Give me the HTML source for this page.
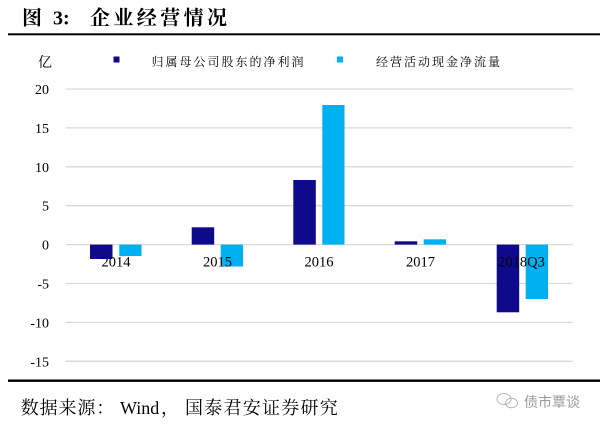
<!DOCTYPE html>
<html>
<head>
<meta charset="utf-8">
<style>
  html,body{margin:0;padding:0;background:#fff;}
  body{width:600px;height:426px;overflow:hidden;}
  svg{display:block;}
</style>
</head>
<body>
<svg width="600" height="426" viewBox="0 0 600 426" xmlns="http://www.w3.org/2000/svg">
  <rect width="600" height="426" fill="#fff"/>
  <!-- Title -->
  <text x="22" y="24.5" font-family="'Liberation Serif','Noto Serif CJK SC',serif" font-size="20" font-weight="bold" fill="#000">图</text>
  <text x="53" y="24.5" font-family="'Liberation Serif','Noto Serif CJK SC',serif" font-size="20" font-weight="bold" fill="#000">3:</text>
  <text x="90" y="24.5" font-family="'Liberation Serif','Noto Serif CJK SC',serif" font-size="20" font-weight="bold" letter-spacing="3.4" fill="#000">企业经营情况</text>
  <rect x="8" y="33.3" width="592" height="2" fill="#000"/>

  <!-- unit -->
  <text x="38" y="67" font-family="'Liberation Serif','Noto Serif CJK SC',serif" font-size="14" fill="#000">亿</text>

  <!-- Legend -->
  <rect x="113.5" y="56.5" width="6" height="6" fill="#0f0a8c"/>
  <text x="151.5" y="66" font-family="'Liberation Serif','Noto Serif CJK SC',serif" font-size="12" letter-spacing="2" fill="#000">归属母公司股东的净利润</text>
  <rect x="337" y="56.5" width="6" height="6" fill="#00b0f0"/>
  <text x="376" y="66" font-family="'Liberation Serif','Noto Serif CJK SC',serif" font-size="12" letter-spacing="2" fill="#000">经营活动现金净流量</text>

  <!-- Gridlines -->
  <g stroke="#d9d9d9" stroke-width="1.3">
    <line x1="65.7" y1="89" x2="572.7" y2="89"/>
    <line x1="65.7" y1="127.9" x2="572.7" y2="127.9"/>
    <line x1="65.7" y1="166.8" x2="572.7" y2="166.8"/>
    <line x1="65.7" y1="205.7" x2="572.7" y2="205.7"/>
    <line x1="65.7" y1="244.6" x2="572.7" y2="244.6"/>
    <line x1="65.7" y1="283.5" x2="572.7" y2="283.5"/>
    <line x1="65.7" y1="322.4" x2="572.7" y2="322.4"/>
    <line x1="65.7" y1="361.3" x2="572.7" y2="361.3"/>
  </g>

  <!-- Y labels -->
  <g font-family="'Liberation Serif',serif" font-size="14" fill="#000" text-anchor="end">
    <text x="49" y="94">20</text>
    <text x="49" y="132.9">15</text>
    <text x="49" y="171.8">10</text>
    <text x="49" y="210.7">5</text>
    <text x="49" y="249.6">0</text>
    <text x="49" y="288.5">-5</text>
    <text x="49" y="327.4">-10</text>
    <text x="49" y="366.3">-15</text>
  </g>

  <!-- Bars -->
  <g fill="#0f0a8c">
    <rect x="90" y="244.6" width="22.5" height="14.4"/>
    <rect x="191.7" y="227.3" width="22.5" height="17.3"/>
    <rect x="293.3" y="180" width="22.5" height="64.6"/>
    <rect x="394.7" y="241.3" width="22.5" height="3.3"/>
    <rect x="496.7" y="244.6" width="22.5" height="67.7"/>
  </g>
  <g fill="#00b0f0">
    <rect x="119.3" y="244.6" width="22.2" height="11.4"/>
    <rect x="220.7" y="244.6" width="22.4" height="21.9"/>
    <rect x="322.3" y="105" width="22.2" height="139.6"/>
    <rect x="423.7" y="239.3" width="22.3" height="5.3"/>
    <rect x="525.7" y="244.6" width="22.3" height="54.4"/>
  </g>

  <!-- X labels -->
  <g font-family="'Liberation Serif',serif" font-size="14.5" fill="#000" text-anchor="middle">
    <text x="116" y="266.5">2014</text>
    <text x="217.5" y="266.5">2015</text>
    <text x="319" y="266.5">2016</text>
    <text x="420.5" y="266.5">2017</text>
    <text x="521.5" y="266.5">2018Q3</text>
  </g>

  <!-- Bottom rule -->
  <rect x="8" y="379.5" width="592" height="2.4" fill="#000"/>

  <!-- Footer -->
  <text x="20.7" y="414" font-family="'Liberation Serif','Noto Serif CJK SC',serif" font-size="18" letter-spacing="0.9" fill="#000">数据来源：</text>
  <text x="120" y="414" font-family="'Liberation Serif',serif" font-size="18" fill="#000">Wind</text>
  <text x="161" y="414" font-family="'Liberation Serif','Noto Serif CJK SC',serif" font-size="18" fill="#000">，</text>
  <text x="185" y="414" font-family="'Liberation Serif','Noto Serif CJK SC',serif" font-size="18" letter-spacing="1.25" fill="#000">国泰君安证券研究</text>

  <!-- Watermark -->
  <g fill="none" stroke="#b5b5b5" stroke-width="1">
    <ellipse cx="504" cy="399" rx="7" ry="5.5"/>
    <ellipse cx="511.5" cy="403" rx="6" ry="4.8"/>
  </g>
  <text x="524" y="407" font-family="'Liberation Sans','Noto Sans CJK SC',sans-serif" font-size="14" fill="#9a9a9a">债市覃谈</text>
</svg>
</body>
</html>
